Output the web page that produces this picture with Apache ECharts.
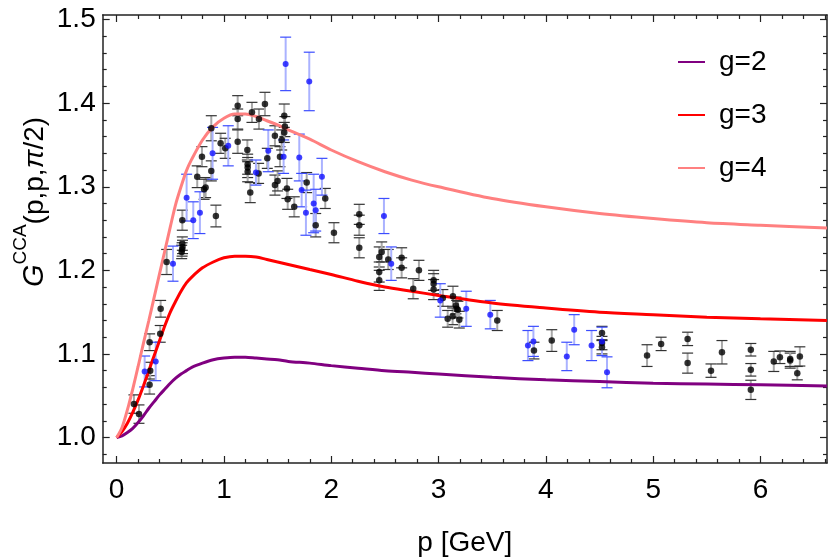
<!DOCTYPE html>
<html>
<head>
<meta charset="utf-8">
<script src="https://cdn.jsdelivr.net/npm/echarts@6/dist/echarts.min.js"></script>
<style>
  html, body { margin: 0; padding: 0; background: #fff; }
  #chart { width: 830px; height: 559px; }
</style>
</head>
<body>
<div id="chart"></div>
<script>
// p values for the model curves
var pGrid = [0, 0.05, 0.1, 0.15, 0.2, 0.25, 0.3, 0.35, 0.4, 0.45, 0.5, 0.55, 0.6, 0.65, 0.7, 0.8, 0.9, 1.0, 1.1, 1.2, 1.3, 1.4, 1.5, 1.6, 1.8, 2.0, 2.25, 2.5, 2.75, 3.0, 3.5, 4.0, 4.5, 5.0, 5.5, 6.0, 6.62];
var g2 = [1.000, 1.002, 1.006, 1.011, 1.018, 1.026, 1.035, 1.043, 1.051, 1.058, 1.065, 1.071, 1.076, 1.080, 1.084, 1.089, 1.093, 1.095, 1.096, 1.096, 1.095, 1.094, 1.093, 1.091, 1.089, 1.086, 1.083, 1.080, 1.078, 1.076, 1.072, 1.069, 1.067, 1.065, 1.064, 1.063, 1.0616];
var g3 = [1.000, 1.007, 1.017, 1.030, 1.045, 1.062, 1.080, 1.098, 1.116, 1.134, 1.150, 1.163, 1.175, 1.185, 1.192, 1.203, 1.210, 1.215, 1.217, 1.217, 1.216, 1.213, 1.210, 1.207, 1.201, 1.195, 1.187, 1.180, 1.175, 1.170, 1.161, 1.155, 1.150, 1.147, 1.144, 1.142, 1.140];
var g4 = [1.000, 1.012, 1.033, 1.058, 1.085, 1.113, 1.140, 1.168, 1.196, 1.224, 1.252, 1.279, 1.300, 1.319, 1.333, 1.356, 1.372, 1.382, 1.387, 1.387, 1.384, 1.379, 1.374, 1.368, 1.357, 1.344, 1.330, 1.318, 1.308, 1.300, 1.286, 1.276, 1.268, 1.262, 1.257, 1.254, 1.2506];

// lattice points [p, G, error]
var blackPoints = [
  [0.161, 1.040, 0.011], [0.208, 1.028, 0.011], [0.307, 1.063, 0.011], [0.313, 1.080, 0.010],
  [0.307, 1.114, 0.010], [0.406, 1.124, 0.010], [0.410, 1.154, 0.010], [0.466, 1.210, 0.015],
  [0.606, 1.222, 0.008], [0.610, 1.225, 0.008], [0.614, 1.228, 0.008], [0.612, 1.232, 0.008],
  [0.612, 1.260, 0.012], [0.751, 1.312, 0.013], [0.795, 1.336, 0.012], [0.829, 1.299, 0.012],
  [0.815, 1.297, 0.012], [0.882, 1.319, 0.012], [0.882, 1.370, 0.015], [0.925, 1.265, 0.013],
  [0.969, 1.352, 0.012], [1.012, 1.346, 0.012], [1.128, 1.397, 0.012], [1.128, 1.381, 0.012],
  [1.128, 1.354, 0.014], [1.218, 1.344, 0.012], [1.221, 1.327, 0.012], [1.221, 1.323, 0.012],
  [1.221, 1.318, 0.012], [1.245, 1.293, 0.012], [1.261, 1.389, 0.012], [1.326, 1.381, 0.012],
  [1.323, 1.316, 0.012], [1.382, 1.399, 0.014], [1.404, 1.334, 0.012], [1.475, 1.361, 0.012],
  [1.475, 1.302, 0.012], [1.500, 1.307, 0.012], [1.522, 1.336, 0.012], [1.538, 1.356, 0.012],
  [1.562, 1.385, 0.014], [1.568, 1.372, 0.012], [1.562, 1.365, 0.012], [1.587, 1.298, 0.012],
  [1.594, 1.285, 0.012], [1.655, 1.276, 0.012], [1.771, 1.305, 0.012], [1.855, 1.254, 0.014],
  [1.944, 1.286, 0.012], [2.025, 1.245, 0.012], [2.261, 1.267, 0.012], [2.261, 1.254, 0.012],
  [2.261, 1.227, 0.012], [2.447, 1.216, 0.012], [2.470, 1.222, 0.012], [2.531, 1.213, 0.012],
  [2.447, 1.198, 0.012], [2.447, 1.188, 0.012], [2.656, 1.215, 0.012], [2.656, 1.203, 0.012],
  [2.817, 1.200, 0.012], [2.764, 1.178, 0.012], [2.954, 1.188, 0.012], [2.954, 1.184, 0.012],
  [2.954, 1.177, 0.012], [3.040, 1.167, 0.010], [3.134, 1.169, 0.012], [3.162, 1.158, 0.010],
  [3.169, 1.154, 0.010], [3.180, 1.153, 0.010], [3.131, 1.145, 0.010], [3.085, 1.142, 0.010],
  [3.193, 1.141, 0.010], [3.547, 1.140, 0.012], [3.889, 1.104, 0.010], [4.055, 1.116, 0.013],
  [4.523, 1.125, 0.008], [4.523, 1.113, 0.008], [4.523, 1.108, 0.008], [4.943, 1.098, 0.013],
  [5.074, 1.112, 0.008], [5.321, 1.118, 0.008], [5.321, 1.089, 0.012], [5.539, 1.080, 0.008],
  [5.641, 1.102, 0.014], [5.910, 1.105, 0.0075], [5.910, 1.081, 0.0075], [5.910, 1.057, 0.0115],
  [6.124, 1.091, 0.012], [6.181, 1.096, 0.0075], [6.277, 1.092, 0.009], [6.277, 1.094, 0.009],
  [6.343, 1.077, 0.008], [6.367, 1.097, 0.0115]
];
var bluePoints = [
  [0.261, 1.079, 0.0185], [0.364, 1.091, 0.023], [0.525, 1.208, 0.021], [0.652, 1.287, 0.028],
  [0.714, 1.260, 0.022], [0.776, 1.269, 0.025], [0.894, 1.340, 0.031], [1.040, 1.349, 0.024],
  [1.298, 1.317, 0.015], [1.413, 1.343, 0.025], [1.556, 1.336, 0.020], [1.575, 1.447, 0.032],
  [1.702, 1.335, 0.028], [1.724, 1.296, 0.020], [1.764, 1.269, 0.027], [1.795, 1.426, 0.035],
  [1.836, 1.280, 0.035], [1.855, 1.272, 0.025], [1.913, 1.312, 0.022], [2.491, 1.265, 0.021],
  [2.559, 1.208, 0.020], [3.016, 1.164, 0.020], [3.258, 1.154, 0.021], [3.482, 1.147, 0.017],
  [3.833, 1.110, 0.018], [3.884, 1.115, 0.018], [4.195, 1.097, 0.017], [4.264, 1.129, 0.018],
  [4.426, 1.110, 0.018], [4.523, 1.115, 0.017], [4.570, 1.078, 0.0185]
];

var xTicks = [0, 1, 2, 3, 4, 5, 6];
var yTicks = [1.0, 1.1, 1.2, 1.3, 1.4, 1.5];
var xMin = -0.13, xMax = 6.62, yMin = 0.9695, yMax = 1.5055;

var xMinor = [], yMinor = [];
for (var i = 1; i <= 33; i++) { if (i % 5 !== 0) xMinor.push(+(i * 0.2).toFixed(1)); }
for (var j = -1; j <= 24; j++) { if (j % 5 !== 0) yMinor.push(+(1 + j * 0.02).toFixed(2)); }

var FONT = 'Liberation Sans';
var FS = 28;

function pairs(xs, ys) {
  return xs.map(function (x, k) { return [x, ys[k]]; });
}

// error bar with caps
function errBar(lineColor, capColor) {
  return function (params, api) {
    var x = api.value(0), y = api.value(1), e = api.value(2);
    var hi = api.coord([x, y + e]);
    var lo = api.coord([x, y - e]);
    var w = 5.5;
    return {
      type: 'group',
      children: [
        { type: 'line', shape: { x1: hi[0], y1: hi[1], x2: lo[0], y2: lo[1] }, style: { stroke: lineColor, lineWidth: 2 } },
        { type: 'line', shape: { x1: hi[0] - w, y1: hi[1], x2: hi[0] + w, y2: hi[1] }, style: { stroke: capColor, lineWidth: 1.2 } },
        { type: 'line', shape: { x1: lo[0] - w, y1: lo[1], x2: lo[0] + w, y2: lo[1] }, style: { stroke: capColor, lineWidth: 1.2 } }
      ]
    };
  };
}

function frameAxis(dim, pos, major, showLine, showLabel) {
  var ax = {
    type: 'value',
    position: pos,
    min: dim === 'x' ? xMin : yMin,
    max: dim === 'x' ? xMax : yMax,
    axisLine: { show: showLine, onZero: false, lineStyle: { color: '#222', width: 1.5 } },
    axisTick: {
      show: true, inside: true, length: major ? 7 : 4,
      customValues: major ? (dim === 'x' ? xTicks : yTicks) : (dim === 'x' ? xMinor : yMinor),
      lineStyle: { color: '#222', width: 1.2 }
    },
    axisLabel: { show: false },
    splitLine: { show: false }
  };
  if (showLabel) {
    ax.axisLabel = {
      show: true,
      customValues: dim === 'x' ? xTicks : yTicks,
      fontFamily: FONT, fontSize: FS, color: '#000',
      margin: dim === 'x' ? 13 : 7,
      formatter: function (v) { return dim === 'x' ? String(Math.round(v)) : v.toFixed(1); }
    };
  }
  return ax;
}

var chart = echarts.init(document.getElementById('chart'));
var option = {
  animation: false,
  backgroundColor: '#fff',
  grid: { left: 102.7, right: 3, top: 15, bottom: 96, containLabel: false, outerBoundsMode: 'none' },
  xAxis: [
    frameAxis('x', 'bottom', true, true, true),
    frameAxis('x', 'bottom', false, false, false),
    frameAxis('x', 'top', true, true, false),
    frameAxis('x', 'top', false, false, false)
  ],
  yAxis: [
    frameAxis('y', 'left', true, true, true),
    frameAxis('y', 'left', false, false, false),
    frameAxis('y', 'right', true, true, false),
    frameAxis('y', 'right', false, false, false)
  ],
  legend: {
    data: ['g=2', 'g=3', 'g=4'],
    orient: 'vertical',
    left: 673, top: 41,
    icon: 'rect', itemWidth: 27, itemHeight: 2, itemGap: 21,
    textStyle: { fontFamily: FONT, fontSize: FS, color: '#000', lineHeight: 32, padding: [0, 0, 0, 9] }
  },
  graphic: [{
    type: 'text',
    x: 30, y: 202,
    rotation: Math.PI / 2,
    style: {
      text: '{g|G}{s|CCA}{n|(p,p,}{pi|π}{n|/2)}',
      align: 'center', verticalAlign: 'middle',
      rich: {
        g: { fontFamily: FONT, fontStyle: 'italic', fontSize: 29, lineHeight: 38, verticalAlign: 'bottom', fill: '#000' },
        s: { fontFamily: FONT, fontSize: 19, lineHeight: 38, verticalAlign: 'top', fill: '#000' },
        n: { fontFamily: FONT, fontSize: FS, lineHeight: 38, verticalAlign: 'bottom', fill: '#000' },
        pi: { fontFamily: FONT, fontStyle: 'italic', fontSize: FS, lineHeight: 38, verticalAlign: 'bottom', fill: '#000' }
      }
    }
  }, {
    type: 'text',
    x: 464.8, y: 543,
    style: { text: 'p [GeV]', fontFamily: FONT, fontSize: FS, fill: '#000', align: 'center', verticalAlign: 'middle' }
  }],
  series: [
    { name: 'g=2', type: 'line', data: pairs(pGrid, g2), smooth: 0.3, showSymbol: false, color: '#800080', lineStyle: { width: 3, color: '#800080' } },
    { name: 'g=3', type: 'line', data: pairs(pGrid, g3), smooth: 0.3, showSymbol: false, color: '#ff0000', lineStyle: { width: 3, color: '#ff0000' } },
    { name: 'g=4', type: 'line', data: pairs(pGrid, g4), smooth: 0.3, showSymbol: false, color: '#ff8080', lineStyle: { width: 3, color: '#ff8080' } },
    { type: 'custom', renderItem: errBar('#a8a8a8', '#333333'), data: blackPoints, clip: true, z: 3 },
    { type: 'custom', renderItem: errBar('#aab2ff', '#3b4cff'), data: bluePoints, clip: true, z: 3 },
    { type: 'scatter', data: blackPoints, symbolSize: 6.5, itemStyle: { color: '#000' }, z: 4 },
    { type: 'scatter', data: bluePoints, symbolSize: 6, itemStyle: { color: '#1010ff' }, z: 4 }
  ]
};
option && chart.setOption(option);
</script>
</body>
</html>
